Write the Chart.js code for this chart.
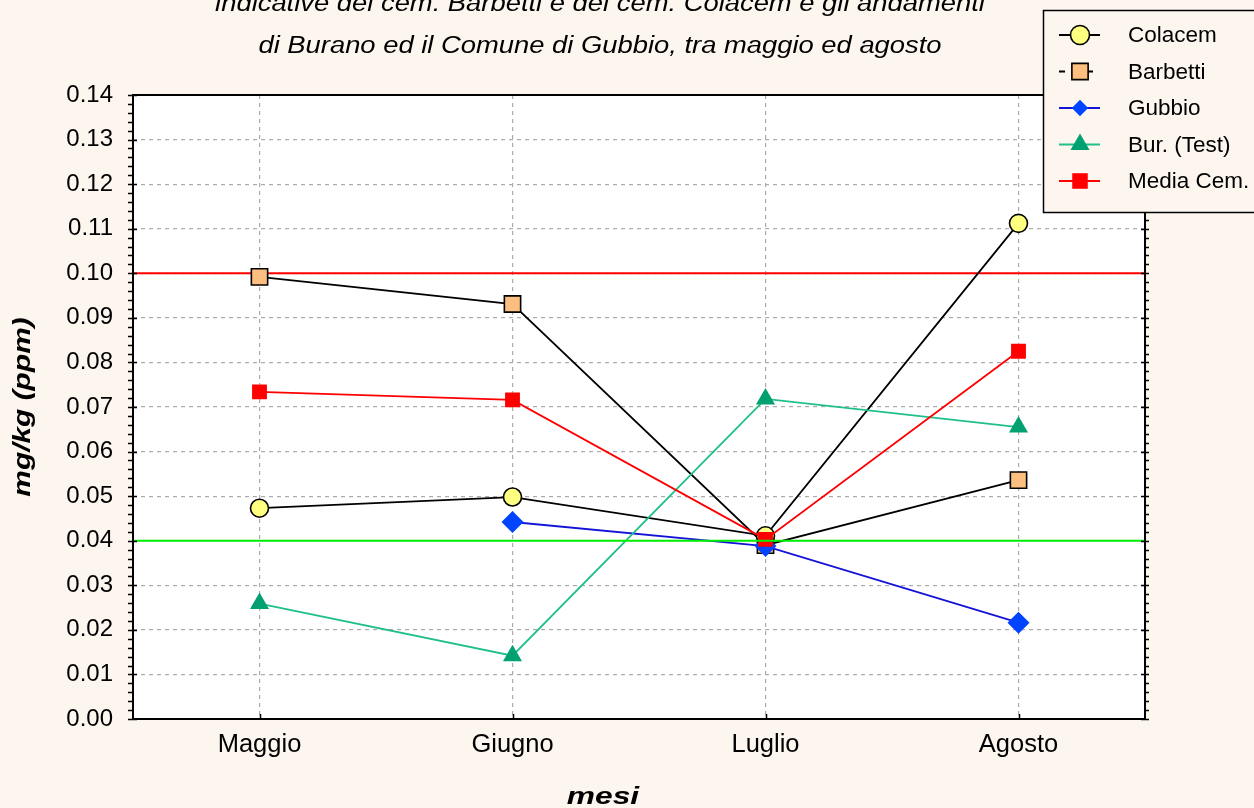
<!DOCTYPE html>
<html>
<head>
<meta charset="utf-8">
<script src="https://cdn.jsdelivr.net/npm/chart.js@4.4.1/dist/chart.umd.min.js"></script>
<style>
  html, body { margin: 0; padding: 0; background: #fdf6ef; }
  #wrap { width: 1254px; height: 808px; }
</style>
</head>
<body>
<div id="wrap"><canvas id="chart" width="1254" height="808"></canvas></div>
<script>
// data
var months = ['Maggio', 'Giugno', 'Luglio', 'Agosto'];
var colacem = [0.0473, 0.0498, 0.0411, 0.1112];
var barbetti = [0.0992, 0.0931, 0.0390, 0.0536];
var gubbio = [null, 0.0442, 0.0388, 0.0216];
var burano = [0.0259, 0.0142, 0.0718, 0.0655];
var mediaCem = [0.0734, 0.0716, 0.0403, 0.0825];
var seriesNames = ['Colacem', 'Barbetti', 'Gubbio', 'Bur. (Test)', 'Media Cem.'];

var yMin = 0, yMax = 0.14, yStep = 0.01, yMinorStep = 0.002;
var limits = [0.10, 0.04];

var titleLines = [
    'indicative dei cem. Barbetti e dei cem. Colacem e gli andamenti',
    'di Burano ed il Comune di Gubbio, tra maggio ed agosto'
];
var xTitle = 'mesi';
var yTitle = 'mg/kg (ppm)';

var FONT = '"Liberation Sans", Arial, sans-serif';
var limitColors = ['#ff0000', '#00ee00'];

// draws a marker the same way Chart.js does
function marker(ctx, style, r, x, y, fill, stroke, bw) {
    var s = r * Math.SQRT1_2;
    ctx.beginPath();
    if (style === 'circle') {
        ctx.arc(x, y, r, 0, Math.PI * 2);
    } else if (style === 'rect') {
        ctx.rect(x - s, y - s, 2 * s, 2 * s);
    } else if (style === 'rectRot') {
        ctx.moveTo(x - s, y);
        ctx.lineTo(x, y - s);
        ctx.lineTo(x + s, y);
        ctx.lineTo(x, y + s);
        ctx.closePath();
    } else if (style === 'triangle') {
        var a = 0;
        ctx.moveTo(x + Math.sin(a) * r, y - Math.cos(a) * r);
        a += Math.PI * 2 / 3;
        ctx.lineTo(x + Math.sin(a) * r, y - Math.cos(a) * r);
        a += Math.PI * 2 / 3;
        ctx.lineTo(x + Math.sin(a) * r, y - Math.cos(a) * r);
        ctx.closePath();
    }
    ctx.fillStyle = fill;
    ctx.fill();
    if (bw > 0) {
        ctx.lineWidth = bw;
        ctx.strokeStyle = stroke;
        ctx.stroke();
    }
}

function stretchedText(ctx, text, x, y, sx, rot) {
    ctx.save();
    ctx.translate(x, y);
    if (rot) ctx.rotate(rot);
    ctx.scale(sx, 1);
    ctx.fillText(text, 0, 0);
    ctx.restore();
}

var frame = {
    id: 'frame',
    beforeDraw: function (chart) {
        var ctx = chart.ctx, a = chart.chartArea;
        ctx.save();
        ctx.fillStyle = '#fdf6ef';
        ctx.fillRect(0, 0, chart.width, chart.height);
        ctx.fillStyle = '#ffffff';
        ctx.fillRect(a.left, a.top, a.right - a.left, a.bottom - a.top);
        ctx.restore();
    },
    beforeDatasetsDraw: function (chart) {
        drawLimit(chart, 0);
    },
    afterDatasetsDraw: function (chart) {
        drawLimit(chart, 1);
    },
    afterDraw: function (chart) {
        var ctx = chart.ctx, a = chart.chartArea;
        var ys = chart.scales.y, xs = chart.scales.x;
        ctx.save();
        ctx.strokeStyle = '#000';
        ctx.lineWidth = 2;
        ctx.strokeRect(a.left, a.top, a.right - a.left, a.bottom - a.top);

        // minor and major ticks on left and right axes
        ctx.lineWidth = 1.5;
        ctx.beginPath();
        var n = Math.round((yMax - yMin) / yMinorStep);
        for (var i = 0; i <= n; i++) {
            var y = Math.round(ys.getPixelForValue(yMin + i * yMinorStep)) + 0.5;
            var major = i % 5 === 0;
            ctx.moveTo(a.left - 5, y);
            ctx.lineTo(a.left + (major ? 4 : 0), y);
            ctx.moveTo(a.right - (major ? 4 : 0), y);
            ctx.lineTo(a.right + 4, y);
        }
        for (var j = 0; j < months.length; j++) {
            var x = Math.round(xs.getPixelForValue(j)) + 0.5;
            ctx.moveTo(x, a.bottom);
            ctx.lineTo(x, a.bottom - 5);
        }
        ctx.stroke();

        // titles
        ctx.fillStyle = '#000';
        ctx.textAlign = 'center';
        ctx.textBaseline = 'alphabetic';
        ctx.font = 'italic 23px ' + FONT;
        stretchedText(ctx, titleLines[0], 600, 11, 1.19);
        stretchedText(ctx, titleLines[1], 600, 53, 1.19);
        ctx.font = 'italic bold 23px ' + FONT;
        stretchedText(ctx, xTitle, 603, 804, 1.38);
        stretchedText(ctx, yTitle, 30, 407, 1.3, -Math.PI / 2);

        // legend box
        ctx.fillStyle = '#fdf6ef';
        ctx.fillRect(1043, 10, 220, 202);
        ctx.lineWidth = 1.5;
        ctx.strokeStyle = '#000';
        ctx.strokeRect(1043.5, 10.5, 220, 202);
        chart.data.datasets.forEach(function (ds, k) {
            var ly = 35 + k * 36.5;
            ctx.save();
            ctx.strokeStyle = ds.borderColor;
            ctx.lineWidth = 1.8;
            ctx.setLineDash(ds.legendDash || []);
            ctx.beginPath();
            ctx.moveTo(1059, ly);
            ctx.lineTo(1100, ly);
            ctx.stroke();
            ctx.restore();
            marker(ctx, ds.pointStyle, ds.legendRadius, 1080, ly,
                ds.pointBackgroundColor, ds.pointBorderColor, ds.pointBorderWidth);
            ctx.fillStyle = '#000';
            ctx.font = '22.5px ' + FONT;
            ctx.textAlign = 'left';
            ctx.textBaseline = 'middle';
            ctx.fillText(ds.label, 1128, ly + 1);
        });
        ctx.restore();
    }
};

function drawLimit(chart, k) {
    var ctx = chart.ctx, a = chart.chartArea;
    var y = chart.scales.y.getPixelForValue(limits[k]);
    ctx.save();
    ctx.strokeStyle = limitColors[k];
    ctx.lineWidth = 2;
    ctx.beginPath();
    ctx.moveTo(a.left, y);
    ctx.lineTo(a.right, y);
    ctx.stroke();
    ctx.restore();
}

new Chart(document.getElementById('chart'), {
    type: 'line',
    data: {
        labels: months,
        datasets: [
            {
                label: seriesNames[0], data: colacem, order: 2,
                borderColor: '#000000', borderWidth: 1.8,
                pointStyle: 'circle', pointRadius: 9, legendRadius: 9.5,
                pointBackgroundColor: '#ffff80', pointBorderColor: '#000000', pointBorderWidth: 1.6
            },
            {
                label: seriesNames[1], data: barbetti, order: 4,
                borderColor: '#000000', borderWidth: 1.8, legendDash: [6, 8],
                pointStyle: 'rect', pointRadius: 11.5, legendRadius: 11.5,
                pointBackgroundColor: '#fdbf80', pointBorderColor: '#000000', pointBorderWidth: 1.6
            },
            {
                label: seriesNames[2], data: gubbio, order: 3,
                borderColor: '#1414d8', borderWidth: 1.8,
                pointStyle: 'rectRot', pointRadius: 11, legendRadius: 11.5,
                pointBackgroundColor: '#0044ff', pointBorderColor: '#0044ff', pointBorderWidth: 0
            },
            {
                label: seriesNames[3], data: burano, order: 1,
                borderColor: '#1fbf8a', borderWidth: 1.8,
                pointStyle: 'triangle', pointRadius: 11, legendRadius: 11,
                pointBackgroundColor: '#00a070', pointBorderColor: '#00a070', pointBorderWidth: 0
            },
            {
                label: seriesNames[4], data: mediaCem, order: 0,
                borderColor: '#ff0000', borderWidth: 1.8,
                pointStyle: 'rect', pointRadius: 10.5, legendRadius: 11,
                pointBackgroundColor: '#ff0000', pointBorderColor: '#ff0000', pointBorderWidth: 0
            }
        ]
    },
    options: {
        responsive: false,
        animation: false,
        events: [],
        layout: { padding: { top: 95, right: 109, left: 0, bottom: 0 } },
        plugins: {
            legend: { display: false },
            title: { display: false },
            tooltip: { enabled: false }
        },
        scales: {
            x: {
                offset: true,
                grid: { color: '#ababab', lineWidth: 1.2, drawTicks: false, offset: false },
                border: { display: false, dash: [4, 4] },
                ticks: { color: '#000', font: { family: FONT, size: 25.5 }, padding: 11 },
                afterFit: function (s) { s.height = 89; }
            },
            y: {
                min: yMin, max: yMax,
                grid: { color: '#ababab', lineWidth: 1.2, drawTicks: false },
                border: { display: false, dash: [4, 4] },
                ticks: {
                    stepSize: yStep, color: '#000', padding: 20,
                    font: { family: FONT, size: 24 },
                    callback: function (v) { return v.toFixed(2); }
                },
                afterFit: function (s) { s.width = 133; }
            }
        }
    },
    plugins: [frame]
});
</script>
</body>
</html>
